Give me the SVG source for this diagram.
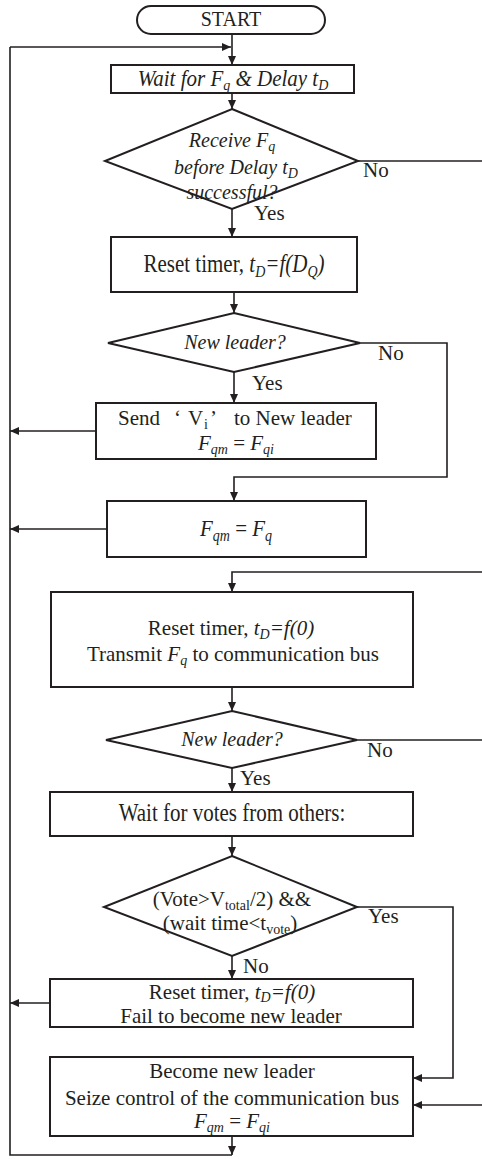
<svg xmlns="http://www.w3.org/2000/svg" width="482" height="1159" viewBox="0 0 482 1159">
<defs>
<marker id="ah" markerWidth="10" markerHeight="10" refX="9" refY="5" orient="auto" markerUnits="userSpaceOnUse"><path d="M0,1 L9,5 L0,9 z" fill="#231f20"/></marker>
</defs>
<style>
.b{fill:#fff;stroke:#231f20;stroke-width:2}
.c{fill:none;stroke:#231f20;stroke-width:1.6}
.a{marker-end:url(#ah)}
text{font-family:"Liberation Serif","Times New Roman",serif;font-size:21px;fill:#231f20;text-anchor:middle}
.i{font-style:italic}
.st{text-anchor:start}
.sb{font-size:14px}
.d{font-size:20px}
</style>
<rect width="482" height="1159" fill="#fff"/>
<g id="connectors">
<path class="c a" d="M10,47 H231"/>
<path class="c a" d="M232,34 V65"/>
<path class="c a" d="M232,93 V109"/>
<path class="c" d="M358,161 H482"/>
<path class="c a" d="M232,209 V237"/>
<path class="c a" d="M234,292 V313"/>
<path class="c a" d="M360,343 H447 V477 H234 V501"/>
<path class="c a" d="M234,372 V403"/>
<path class="c a" d="M96,431 H10"/>
<path class="c a" d="M107,529 H10"/>
<path class="c a" d="M482,572 H232 V592"/>
<path class="c a" d="M232,687 V711"/>
<path class="c" d="M357,740 H482"/>
<path class="c a" d="M232,768 V792"/>
<path class="c a" d="M232,836 V856"/>
<path class="c a" d="M357,907 H453 V1078 H413"/>
<path class="c a" d="M232,956 V979"/>
<path class="c a" d="M50,1003 H10"/>
<path class="c a" d="M482,1105 H413"/>
<path class="c a" d="M232,1136 V1155"/>
<path class="c" d="M232,1155 H10 V47"/>
<text class="st" x="363" y="177">No</text>
<text class="st" x="254" y="220">Yes</text>
<text class="st" x="378" y="360">No</text>
<text class="st" x="252" y="390">Yes</text>
<text class="st" x="367" y="757">No</text>
<text class="st" x="240" y="785">Yes</text>
<text class="st" x="368" y="923">Yes</text>
<text class="st" x="243" y="973">No</text>
</g>
<g id="start">
<rect class="b" x="137" y="6" width="188" height="28" rx="14"/>
<text class="d" transform="translate(0 26) scale(1 1.08)" x="231" y="0">START</text>
</g>
<g id="wait">
<rect class="b" x="111" y="65" width="243" height="28"/>
<text class="i" transform="translate(0 86) scale(1 1.06)" x="233" y="0">Wait for F<tspan class="sb" dy="4">q</tspan><tspan dy="-4"> &amp; Delay t</tspan><tspan class="sb" dy="4">D</tspan></text>
</g>
<g id="decision1">
<polygon class="b" points="232,109 358,161 232,209 105,161"/>
<text class="i d" x="232" y="147">Receive F<tspan class="sb" dy="4">q</tspan></text>
<text class="i d" x="236" y="174">before Delay t<tspan class="sb" dy="4">D</tspan></text>
<text class="i d" x="232" y="199">successful?</text>
</g>
<g id="reset1">
<rect class="b" x="111" y="237" width="246" height="55"/>
<text transform="translate(0 272) scale(1 1.2)" x="234" y="0">Reset timer, <tspan class="i">t</tspan><tspan class="i sb" dy="4">D</tspan><tspan class="i" dy="-4">=f(D</tspan><tspan class="i sb" dy="4">Q</tspan><tspan class="i" dy="-4">)</tspan></text>
</g>
<g id="decision2">
<polygon class="b" points="234,313 360,343 234,372 108,343"/>
<text class="i d" x="235" y="349">New leader?</text>
</g>
<g id="send">
<rect class="b" x="96" y="403" width="280" height="56"/>
<text class="st" x="0" y="425"><tspan x="118">Send</tspan><tspan x="174">‘</tspan><tspan x="188">V</tspan><tspan class="sb" x="204" dy="4">i</tspan><tspan x="210" dy="-4">’</tspan><tspan x="234">to New leader</tspan></text>
<text x="236" y="450"><tspan class="i">F</tspan><tspan class="i sb" dy="4">qm</tspan><tspan dy="-4"> = </tspan><tspan class="i">F</tspan><tspan class="i sb" dy="4">qi</tspan></text>
</g>
<g id="fqm">
<rect class="b" x="107" y="501" width="259" height="56"/>
<text transform="translate(0 536) scale(1 1.13)" x="236" y="0"><tspan class="i">F</tspan><tspan class="i sb" dy="4">qm</tspan><tspan dy="-4"> = </tspan><tspan class="i">F</tspan><tspan class="i sb" dy="4">q</tspan></text>
</g>
<g id="transmit">
<rect class="b" x="51" y="592" width="362" height="95"/>
<text x="231" y="635">Reset timer, <tspan class="i">t</tspan><tspan class="i sb" dy="4">D</tspan><tspan class="i" dy="-4">=f(0)</tspan></text>
<text x="233" y="661">Transmit <tspan class="i">F</tspan><tspan class="i sb" dy="4">q</tspan><tspan dy="-4"> to communication bus</tspan></text>
</g>
<g id="decision3">
<polygon class="b" points="232,711 357,740 232,768 106,740"/>
<text class="i d" x="232" y="746">New leader?</text>
</g>
<g id="votes">
<rect class="b" x="50" y="792" width="363" height="44"/>
<text transform="translate(0 821) scale(1 1.15)" x="232" y="0">Wait for votes from others:</text>
</g>
<g id="decision4">
<polygon class="b" points="232,856 357,907 232,956 104,907"/>
<text x="232" y="906">(Vote&gt;V<tspan class="sb" dy="4">total</tspan><tspan dy="-4">/2) &amp;&amp;</tspan></text>
<text x="230" y="930">(wait time&lt;t<tspan class="sb" dy="4">vote</tspan><tspan dy="-4">)</tspan></text>
</g>
<g id="fail">
<rect class="b" x="50" y="979" width="363" height="48"/>
<text x="232" y="999">Reset timer, <tspan class="i">t</tspan><tspan class="i sb" dy="3">D</tspan><tspan class="i" dy="-3">=f(0)</tspan></text>
<text x="231" y="1023">Fail to become new leader</text>
</g>
<g id="become">
<rect class="b" x="50" y="1057" width="363" height="79"/>
<text x="232" y="1078">Become new leader</text>
<text x="232" y="1105">Seize control of the communication bus</text>
<text x="232" y="1128"><tspan class="i">F</tspan><tspan class="i sb" dy="4">qm</tspan><tspan dy="-4"> = </tspan><tspan class="i">F</tspan><tspan class="i sb" dy="4">qi</tspan></text>
</g>
</svg>
